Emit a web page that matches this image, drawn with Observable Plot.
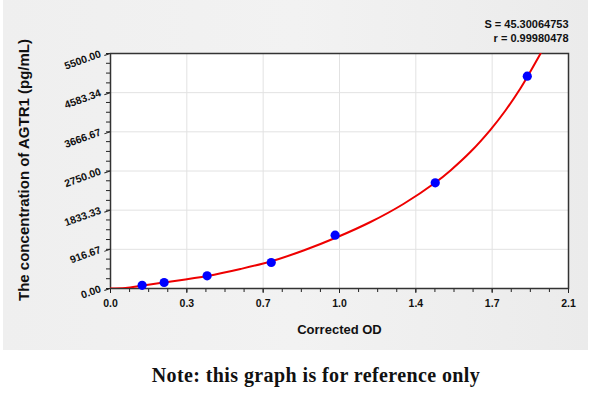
<!DOCTYPE html>
<html>
<head>
<meta charset="utf-8">
<script src="https://cdn.jsdelivr.net/npm/d3@7"></script>
<script src="https://cdn.jsdelivr.net/npm/@observablehq/plot@0.6"></script>
<style>
  html, body { margin: 0; padding: 0; background: #ffffff; }
  #wrap { position: relative; width: 600px; height: 394px; overflow: hidden; }
  #panel { position: absolute; left: 3px; top: 0; width: 585px; height: 350px;
           background: linear-gradient(90deg, #efefef 0%, #f2f2f2 50%, #ebebeb 100%); }
  #chart { position: absolute; left: 0; top: 0; }
  #note { position: absolute; left: 0; top: 356px; width: 600px; height: 38px; line-height: 38px;
          text-align: center; padding-left: 32px; box-sizing: border-box; letter-spacing: 0.4px;
          font-family: "Liberation Serif", "DejaVu Serif", serif; font-weight: bold; font-size: 20px; color: #111; }
</style>
</head>
<body>
<div id="wrap">
  <div id="panel"></div>
  <div id="chart"></div>
  <div id="note">Note: this graph is for reference only</div>
</div>
<script>
// Axis ticks and labels
const xTicks = [0, 0.35, 0.7, 1.05, 1.4, 1.75, 2.1];
const xTickLabels = ["0.0", "0.3", "0.7", "1.0", "1.4", "1.7", "2.1"];
const yTicks = [0, 916.67, 1833.33, 2750, 3666.67, 4583.34, 5500];
const yTickLabels = ["0.00", "916.67", "1833.33", "2750.00", "3666.67", "4583.34", "5500.00"];

// Standard points (Corrected OD vs concentration, pg/mL)
const stdOD   = [0.145, 0.246, 0.443, 0.737, 1.030, 1.489, 1.911];
const stdConc = [75, 140, 297, 608, 1248, 2474, 4969];

// Fitted curve
const curveOD   = [0, 0.069, 0.147, 0.243, 0.445, 0.596, 0.734, 0.885, 1.041, 1.192, 1.343, 1.490, 1.559, 1.651, 1.742, 1.811, 1.880, 1.912, 1.972];
const curveConc = [0, 12, 70, 140, 293, 456, 632, 889, 1205, 1556, 1978, 2481, 2764, 3199, 3714, 4166, 4688, 4961, 5500];

const fitStats = ["S = 45.30064753", "r = 0.99980478"];
const yTitle = "The concentration of AGTR1 (pg/mL)";
const xTitle = "Corrected OD";

const stds = stdOD.map((x, i) => ({x, y: stdConc[i]}));
const curve = curveOD.map((x, i) => ({x, y: curveConc[i]}));

const minorX = d3.range(0, 2.1 + 1e-9, 0.35 / 4);
const minorY = d3.range(0, 5500 + 1e-6, 5500 / 24);

const chart = Plot.plot({
  width: 600,
  height: 356,
  marginLeft: 110,
  marginRight: 32,
  marginTop: 53,
  marginBottom: 68,
  style: { background: "transparent", fontFamily: "'Liberation Sans', Arial, sans-serif", color: "#111" },
  x: { domain: [0, 2.1] },
  y: { domain: [0, 5500] },
  marks: [
    Plot.frame({ fill: "white" }),
    Plot.gridX(xTicks, { stroke: "#e2e2e2", strokeOpacity: 1 }),
    Plot.gridY(yTicks, { stroke: "#e2e2e2", strokeOpacity: 1 }),
    Plot.axisX({ ticks: minorX, tickSize: 4, tickFormat: () => "", label: null, stroke: "#222" }),
    Plot.axisY({ ticks: minorY, tickSize: 4, tickFormat: () => "", label: null, stroke: "#222" }),
    Plot.axisX({ ticks: xTicks, tickSize: 5, tickPadding: 6, label: null, stroke: "#222",
                 tickFormat: d => xTickLabels[xTicks.indexOf(d)], fontWeight: "bold", fontSize: 10.5 }),
    Plot.axisY({ ticks: yTicks, tickSize: 6, tickPadding: 4, label: null, stroke: "#222", rotate: -20,
                 tickFormat: d => yTickLabels[yTicks.indexOf(d)], fontWeight: "bold", fontSize: 10.5 }),
    Plot.frame({ stroke: "#333", strokeWidth: 1.5 }),
    Plot.line(curve, { x: "x", y: "y", stroke: "#ee0000", strokeWidth: 2, curve: "catmull-rom", clip: true }),
    Plot.dot(stds, { x: "x", y: "y", r: 4.6, fill: "#0000ff", stroke: "none" }),
    Plot.text([fitStats[0]], { frameAnchor: "top-right", text: d => d, dy: -33, textAnchor: "end", fontSize: 11, fontWeight: 600, fill: "#111" }),
    Plot.text([fitStats[1]], { frameAnchor: "top-right", text: d => d, dy: -19, textAnchor: "end", fontSize: 11, fontWeight: 600, fill: "#111" }),
    Plot.text([yTitle], { frameAnchor: "left", text: d => d, rotate: -90, dx: -86, dy: -1, textAnchor: "middle", fontSize: 15, fontWeight: "bold", fill: "#111" }),
    Plot.text([xTitle], { frameAnchor: "bottom", text: d => d, dy: 45, fontSize: 13, fontWeight: "bold", fill: "#111" })
  ]
});
document.getElementById("chart").appendChild(chart);
</script>
</body>
</html>
